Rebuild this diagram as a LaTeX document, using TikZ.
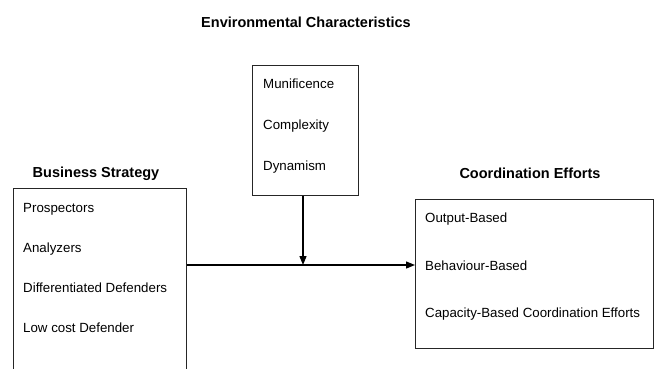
\documentclass[tikz,border=0pt]{standalone}
\usepackage{fontspec}
\setmainfont{Liberation Sans}
\usetikzlibrary{arrows.meta}
\tikzset{
	box/.style={draw=black!85, line width=0.9pt, anchor=north west, inner sep=0pt},
	item/.style={anchor=base west, inner sep=0pt, font=\fontsize{13.3}{15}\selectfont},
	heading/.style={anchor=base, inner sep=0pt, font=\fontsize{14.5}{17}\selectfont\bfseries},
	conn/.style={line width=1.3pt, -{Triangle[length=9pt,width=7pt]}}
}
\begin{document}
\begin{tikzpicture}[x=1pt, y=-1pt]
	\useasboundingbox (0,0) rectangle (655,368);
	\clip (0,0) rectangle (655,368);
	% headings
	\node[heading] (envhead) at (306,27) {Environmental Characteristics};
	\node[heading] (bshead) at (96,177) {Business Strategy};
	\node[heading] (cehead) at (530,178) {Coordination Efforts};
	%
	% the three boxes (business strategy runs off the bottom)
	\node[box, minimum width=106pt, minimum height=130pt] (env) at (252,65) {};
	\node[box, minimum width=173pt, minimum height=200pt] (bs) at (13,188) {};
	\node[box, minimum width=238pt, minimum height=149pt] (ce) at (415,199) {};
	%
	% contents of the boxes
	\foreach \txt [count=\i] in {Munificence, Complexity, Dynamism}
		\node[item] (env_\i) at (263, 88 + 41*\i - 41) {\txt};
	\foreach \txt [count=\i] in {Prospectors, Analyzers, Differentiated Defenders, Low cost Defender}
		\node[item] (bs_\i) at (23, 212.5 + 40*\i - 40) {\txt};
	\foreach \txt [count=\i] in {Output-Based, Behaviour-Based, Capacity-Based Coordination Efforts}
		\node[item] (ce_\i) at (425, 222.5 + 47.5*\i - 47.5) {\txt};
	%
	% connectors: strategy -> coordination, moderated by environment
	\coordinate (join) at (303,265);
	\draw[conn] (bs.east |- join) -- (ce.west |- join);
	\draw[conn] (env.south -| join) -- (join);
\end{tikzpicture}
\end{document}
